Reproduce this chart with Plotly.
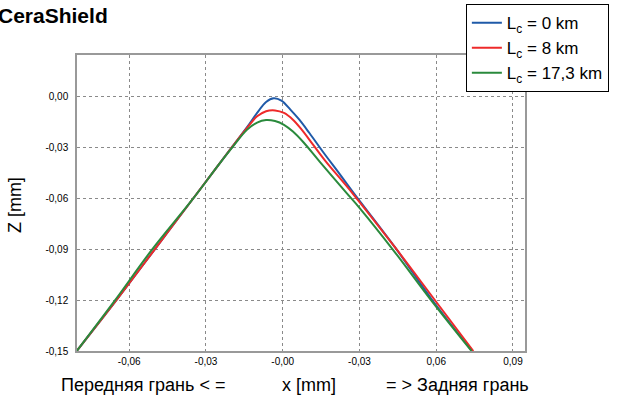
import plotly.graph_objects as go

# ---- data ----
series_names = ["L<sub>c</sub> = 0 km", "L<sub>c</sub> = 8 km", "L<sub>c</sub> = 17,3 km"]
series_colors = ["#1f5aa8", "#ee2a2a", "#2a8a3c"]

x_blue = [-0.0805, -0.065, -0.050, -0.035, -0.025, -0.019, -0.014, -0.010, -0.0065,
          -0.0035, -0.0005, 0.003, 0.0065, 0.0105, 0.016, 0.022, 0.0276, 0.044, 0.058, 0.074]
z_blue = [-0.150, -0.120, -0.090, -0.060, -0.040, -0.028, -0.018, -0.0095, -0.003,
          -0.0008, -0.0022, -0.0075, -0.0135, -0.0215, -0.033, -0.045, -0.0565, -0.089, -0.119, -0.150]

x_red = [-0.0805, -0.065, -0.050, -0.035, -0.025, -0.019, -0.014, -0.010, -0.0065,
         -0.003, 0.0005, 0.004, 0.0075, 0.012, 0.0165, 0.0276, 0.044, 0.059, 0.0745]
z_red = [-0.150, -0.120, -0.090, -0.060, -0.040, -0.028, -0.0185, -0.0115, -0.0085,
         -0.008, -0.0095, -0.0135, -0.0195, -0.0285, -0.0375, -0.0575, -0.089, -0.119, -0.150]

x_green = [-0.0805, -0.066, -0.051, -0.0355, -0.025, -0.019, -0.014, -0.010, -0.0065,
           -0.003, 0.0005, 0.004, 0.0081, 0.0146, 0.025, 0.030, 0.0435, 0.0585, 0.0738]
z_green = [-0.150, -0.121, -0.090, -0.061, -0.040, -0.0285, -0.0195, -0.0152, -0.0137,
           -0.0143, -0.0165, -0.0205, -0.0268, -0.0385, -0.0568, -0.0655, -0.091, -0.121, -0.150]

x_tickvals = [-0.06, -0.03, 0.0, 0.03, 0.06, 0.09]
x_ticktext = ["-0,06", "-0,03", "-0,00", "-0,03", "0,06", "0,09"]
y_tickvals = [0.0, -0.03, -0.06, -0.09, -0.12, -0.15]
y_ticktext = ["0,00", "-0,03", "-0,06", "-0,09", "-0,12", "-0,15"]

title_text = "CeraShield"
y_title = "Z [mm]"
x_title_left = "Передняя грань < ="
x_title_mid = "x [mm]"
x_title_right = "= > Задняя грань"

FONT = "Liberation Sans, Arial, sans-serif"

fig = go.Figure()
for xs, zs, name, col in zip([x_blue, x_red, x_green], [z_blue, z_red, z_green],
                             series_names, series_colors):
    fig.add_trace(go.Scatter(x=xs, y=zs, mode="lines", name=name,
                             line=dict(color=col, width=2, shape="spline", smoothing=1.0)))

axis_common = dict(showgrid=True, gridcolor="#8a8a8a", griddash="dot", gridwidth=1,
                   showline=True, linecolor="#999999", linewidth=1.5, mirror=True,
                   zeroline=False, ticks="", tickfont=dict(family=FONT, size=10, color="black"))

fig.update_layout(
    width=617, height=399,
    margin=dict(l=77, r=92, t=55, b=48, autoexpand=False),
    paper_bgcolor="white", plot_bgcolor="white",
    font=dict(family=FONT, color="black"),
    showlegend=True,
    legend=dict(x=0.868, y=1.172, xanchor="left", yanchor="top",
                bordercolor="black", borderwidth=1, bgcolor="white",
                font=dict(family=FONT, size=17, color="black"),
                tracegroupgap=0, itemwidth=30),
    xaxis=dict(range=[-0.0804, 0.0947], tickvals=x_tickvals, ticktext=x_ticktext, **axis_common),
    yaxis=dict(range=[-0.15, 0.0247], tickvals=y_tickvals, ticktext=y_ticktext,
               ticklabelstandoff=5, **axis_common),
)

fig.add_annotation(text="<b>" + title_text + "</b>", xref="paper", yref="paper",
                   x=-0.18, y=1.132, xanchor="left", yanchor="middle", showarrow=False,
                   font=dict(family=FONT, size=21, color="black"))
fig.add_annotation(text=y_title, xref="paper", yref="paper", x=-0.137, y=0.4916,
                   textangle=-90, xanchor="center", yanchor="middle", showarrow=False,
                   font=dict(family=FONT, size=18, color="black"))
fig.add_annotation(text=x_title_left, xref="paper", yref="paper", x=-0.04, y=-0.115,
                   xanchor="left", yanchor="middle", showarrow=False,
                   font=dict(family=FONT, size=18, color="black"))
fig.add_annotation(text=x_title_mid, xref="paper", yref="paper", x=0.518, y=-0.115,
                   xanchor="center", yanchor="middle", showarrow=False,
                   font=dict(family=FONT, size=18, color="black"))
fig.add_annotation(text=x_title_right, xref="paper", yref="paper", x=1.013, y=-0.115,
                   xanchor="right", yanchor="middle", showarrow=False,
                   font=dict(family=FONT, size=18, color="black"))

fig.write_html("out.html")
